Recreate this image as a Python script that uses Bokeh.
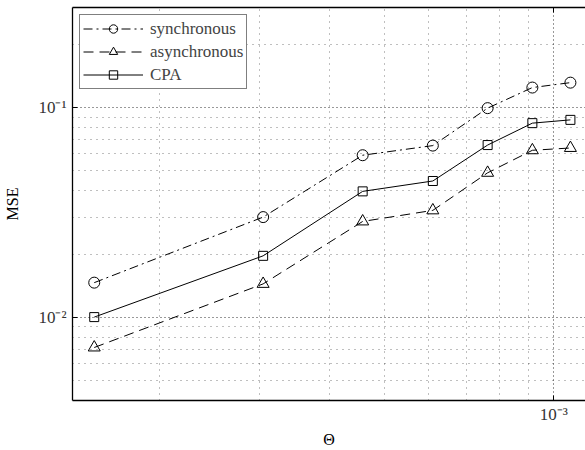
from bokeh.plotting import figure
from bokeh.models import FixedTicker, Legend, LegendItem, LogAxis, Range1d
from bokeh.embed import file_html
from bokeh.resources import INLINE

theta = [1.53e-4, 3.05e-4, 4.58e-4, 6.10e-4, 7.63e-4, 9.16e-4, 1.07e-3]
mse_sync = [0.0146, 0.0300, 0.0592, 0.0658, 0.0993, 0.1245, 0.1314]
mse_async = [0.00716, 0.0144, 0.0286, 0.0323, 0.0488, 0.0625, 0.0641]
mse_cpa = [0.0100, 0.0196, 0.0398, 0.0446, 0.0662, 0.0842, 0.0873]

y_major = [0.01, 0.1]
y_minor = [0.004, 0.005, 0.006, 0.007, 0.008, 0.009,
           0.02, 0.03, 0.04, 0.05, 0.06, 0.07, 0.08, 0.09, 0.2, 0.3]
x_major = [1e-3]
x_minor = [2e-4, 3e-4, 4e-4, 5e-4, 6e-4, 7e-4, 8e-4, 9e-4]
y_labels = {0.01: "10⁻²", 0.1: "10⁻¹"}
x_labels = {1e-3: "10⁻³"}

FONT = "Liberation Serif"

p = figure(width=585, height=450, x_axis_type="log", y_axis_type="log",
           x_range=Range1d(1.40e-4, 1.138e-3), y_range=Range1d(0.004, 0.3),
           output_backend="svg", toolbar_location=None,
           min_border_left=72, min_border_right=0, min_border_top=7,
           min_border_bottom=47, x_axis_label="Θ", y_axis_label="MSE")
p.outline_line_color = None
p.background_fill_color = "white"
p.border_fill_color = "white"

p.xaxis.ticker = FixedTicker(ticks=x_major, minor_ticks=x_minor)
p.yaxis.ticker = FixedTicker(ticks=y_major, minor_ticks=y_minor)
p.xaxis.major_label_overrides = x_labels
p.yaxis.major_label_overrides = y_labels

for ax in (p.xaxis[0], p.yaxis[0]):
    ax.axis_line_color = "black"
    ax.axis_line_width = 1.3
    ax.major_tick_in = 5
    ax.major_tick_out = 0
    ax.minor_tick_in = 0
    ax.minor_tick_out = 0
    ax.major_label_text_font = FONT
    ax.major_label_text_font_size = "17px"
    ax.major_label_text_color = "#333333"
    ax.axis_label_text_font = FONT
    ax.axis_label_text_font_size = "16px"
    ax.axis_label_text_font_style = "normal"
    ax.axis_label_text_color = "black"
p.xaxis.major_label_standoff = 4
p.xaxis.axis_label_standoff = 4
p.yaxis.major_label_standoff = 6
p.yaxis.axis_label_standoff = 14

top = LogAxis(ticker=FixedTicker(ticks=x_major, minor_ticks=x_minor),
              major_label_text_font_size="0px", major_tick_in=5, major_tick_out=0,
              minor_tick_in=0, minor_tick_out=0, axis_line_color="black",
              axis_line_width=1.3, major_label_standoff=0)
top.major_label_overrides = {1e-3: ""}
p.add_layout(top, "above")

for g in (p.xgrid[0], p.ygrid[0]):
    g.grid_line_color = "black"
    g.grid_line_dash = "1 3"
    g.grid_line_alpha = 0.8
    g.minor_grid_line_color = "black"
    g.minor_grid_line_dash = "1 5"
    g.minor_grid_line_alpha = 0.5

lw = 1
c = "black"
l1 = p.line(theta, mse_sync, line_color=c, line_width=lw, line_dash="9 4 2 4")
m1 = p.scatter(theta, mse_sync, marker="circle", size=11, line_color=c, fill_color=None, line_width=lw)
l2 = p.line(theta, mse_async, line_color=c, line_width=lw, line_dash="10 6")
m2 = p.scatter(theta, mse_async, marker="triangle", size=12, line_color=c, fill_color=None, line_width=lw)
l3 = p.line(theta, mse_cpa, line_color=c, line_width=lw)
m3 = p.scatter(theta, mse_cpa, marker="square", size=9, line_color=c, fill_color=None, line_width=lw)

legend = Legend(items=[
    LegendItem(label="synchronous", renderers=[l1, m1]),
    LegendItem(label="asynchronous", renderers=[l2, m2]),
    LegendItem(label="CPA", renderers=[l3, m3]),
], location="top_left")
legend.label_text_font = FONT
legend.label_text_font_size = "17px"
legend.glyph_width = 60
legend.glyph_height = 21
legend.label_height = 21
legend.spacing = 2
legend.padding = 3
legend.margin = 7
legend.label_standoff = 7
legend.border_line_color = "black"
legend.border_line_width = 1.3
legend.background_fill_alpha = 1
p.add_layout(legend)

open("out.html", "w").write(file_html(p, INLINE))
